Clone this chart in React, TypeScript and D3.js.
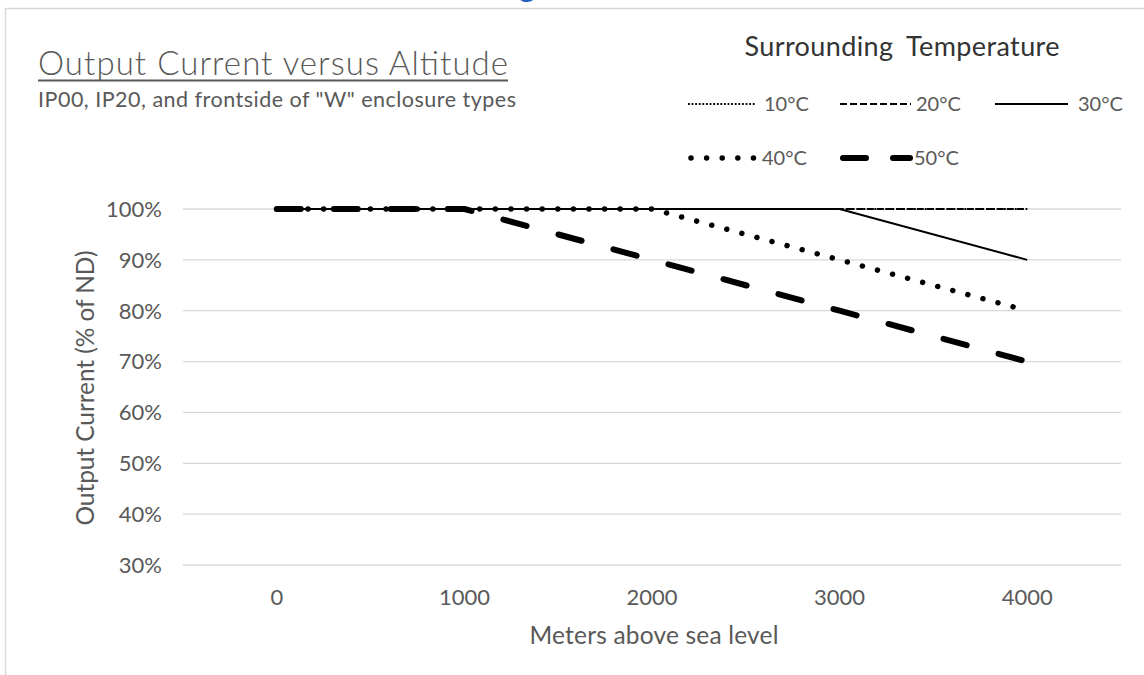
import React from "react";
import * as d3 from "d3";

const altitudes = [0, 1000, 2000, 3000, 4000];
const t10 = [100, 100, 100, 100, 100];
const t20 = [100, 100, 100, 100, 100];
const t30 = [100, 100, 100, 100, 90];
const t40 = [100, 100, 100, 90, 80];
const t50 = [100, 100, 90, 80, 70];
const yTicks = [30, 40, 50, 60, 70, 80, 90, 100];
const seriesNames = ["10°C", "20°C", "30°C", "40°C", "50°C"];
const seriesValues = [t10, t20, t30, t40, t50];

const W = 1144;
const H = 675;
const FONT = "Lato, 'Open Sans', sans-serif";

const styles = [
  { width: 1.8, dash: "1.8,1.8", cap: "butt" },
  { width: 2.2, dash: "7,3", cap: "butt" },
  { width: 2, dash: "none", cap: "butt" },
  { width: 5.5, dash: "0.01,15.6", cap: "round" },
  { width: 6, dash: "24,33", cap: "round" },
];

const legendPos = [
  { x1: 688, x2: 756, y: 104, tx: 764 },
  { x1: 840, x2: 911, y: 104, tx: 916 },
  { x1: 995, x2: 1068, y: 104, tx: 1078 },
  { x1: 688, x2: 758, y: 158, tx: 762 },
  { x1: 840, x2: 913, y: 158, tx: 914 },
];

export default function App() {
  const x = d3
    .scaleBand<number>()
    .domain(altitudes)
    .range([183, 1121])
    .padding(0);
  const y = d3.scaleLinear().domain([30, 100]).range([565, 209]);
  const cx = (d: number) => (x(d) as number) + x.bandwidth() / 2;

  const line = d3
    .line<[number, number]>()
    .x((d) => cx(d[0]))
    .y((d) => y(d[1]));

  return (
    <svg
      width={W}
      height={H}
      style={{ position: "absolute", left: 0, top: 0, background: "#fff" }}
      fontFamily={FONT}
    >
      <rect x={0} y={0} width={W} height={H} fill="#fff" />
      {/* cut-off caption descender */}
      <text x={519} y={-3} fontSize={30} fill="#1f5fbf" fontWeight={700}>
        g
      </text>
      {/* chart border */}
      <line x1={5} y1={8.5} x2={W} y2={8.5} stroke="#d9d9d9" strokeWidth={1.5} />
      <line x1={5.5} y1={8} x2={5.5} y2={H} stroke="#d9d9d9" strokeWidth={1.5} />

      {/* title */}
      <text x={38} y={75} fontSize={33} fontWeight={300} fill="#595959" textLength={470} lengthAdjust="spacing">
        Output Current versus Altitude
      </text>
      <line x1={38} y1={80.5} x2={508} y2={80.5} stroke="#595959" strokeWidth={2} />
      <text x={38} y={107} fontSize={21.5} fill="#595959" textLength={478} lengthAdjust="spacing">
        IP00, IP20, and frontside of "W" enclosure types
      </text>

      {/* gridlines */}
      {yTicks.map((t) => (
        <line
          key={t}
          x1={183}
          x2={1121}
          y1={y(t)}
          y2={y(t)}
          stroke="#d9d9d9"
          strokeWidth={1.3}
        />
      ))}
      {/* y tick labels */}
      {yTicks.map((t) => (
        <text
          key={"l" + t}
          x={162}
          y={y(t)}
          dy="0.36em"
          textAnchor="end"
          fontSize={22}
          fill="#595959"
        >
          {t + "%"}
        </text>
      ))}
      {/* x tick labels */}
      {altitudes.map((a) => (
        <text
          key={a}
          x={cx(a)}
          y={605}
          textAnchor="middle"
          fontSize={22}
          fill="#595959"
        >
          {a}
        </text>
      ))}
      {/* axis titles */}
      <text
        x={654}
        y={644}
        textAnchor="middle"
        fontSize={24.5}
        fill="#595959"
        textLength={249}
        lengthAdjust="spacing"
      >
        Meters above sea level
      </text>
      <text
        transform={`translate(85,388) rotate(-90)`}
        dy="0.35em"
        textAnchor="middle"
        fontSize={24.5}
        fill="#595959"
        textLength={275}
        lengthAdjust="spacing"
      >
        Output Current (% of ND)
      </text>

      {/* series */}
      {seriesValues.map((vals, i) => (
        <path
          key={seriesNames[i]}
          d={line(altitudes.map((a, j) => [a, vals[j]] as [number, number])) || ""}
          fill="none"
          stroke="#000"
          strokeWidth={styles[i].width}
          strokeDasharray={styles[i].dash}
          strokeLinecap={styles[i].cap as any}
          strokeLinejoin="round"
        />
      ))}

      {/* legend */}
      <text
        x={902}
        y={56}
        textAnchor="middle"
        fontSize={27}
        fill="#333333"
        textLength={315}
        lengthAdjust="spacing"
        style={{ wordSpacing: "6px" }}
      >
        Surrounding Temperature
      </text>
      {seriesNames.map((n, i) => (
        <g key={"lg" + n}>
          <line
            x1={legendPos[i].x1 + (i >= 3 ? 3 : 0)}
            x2={legendPos[i].x2 - (i >= 3 ? 3 : 0)}
            y1={legendPos[i].y}
            y2={legendPos[i].y}
            stroke="#000"
            strokeWidth={styles[i].width}
            strokeDasharray={i === 4 ? "23,27" : i === 3 ? "0.01,15.6" : styles[i].dash}
            strokeLinecap={styles[i].cap as any}
          />
          <text
            x={legendPos[i].tx}
            y={legendPos[i].y}
            dy="0.36em"
            fontSize={20}
            fill="#595959"
          >
            {n}
          </text>
        </g>
      ))}
    </svg>
  );
}
